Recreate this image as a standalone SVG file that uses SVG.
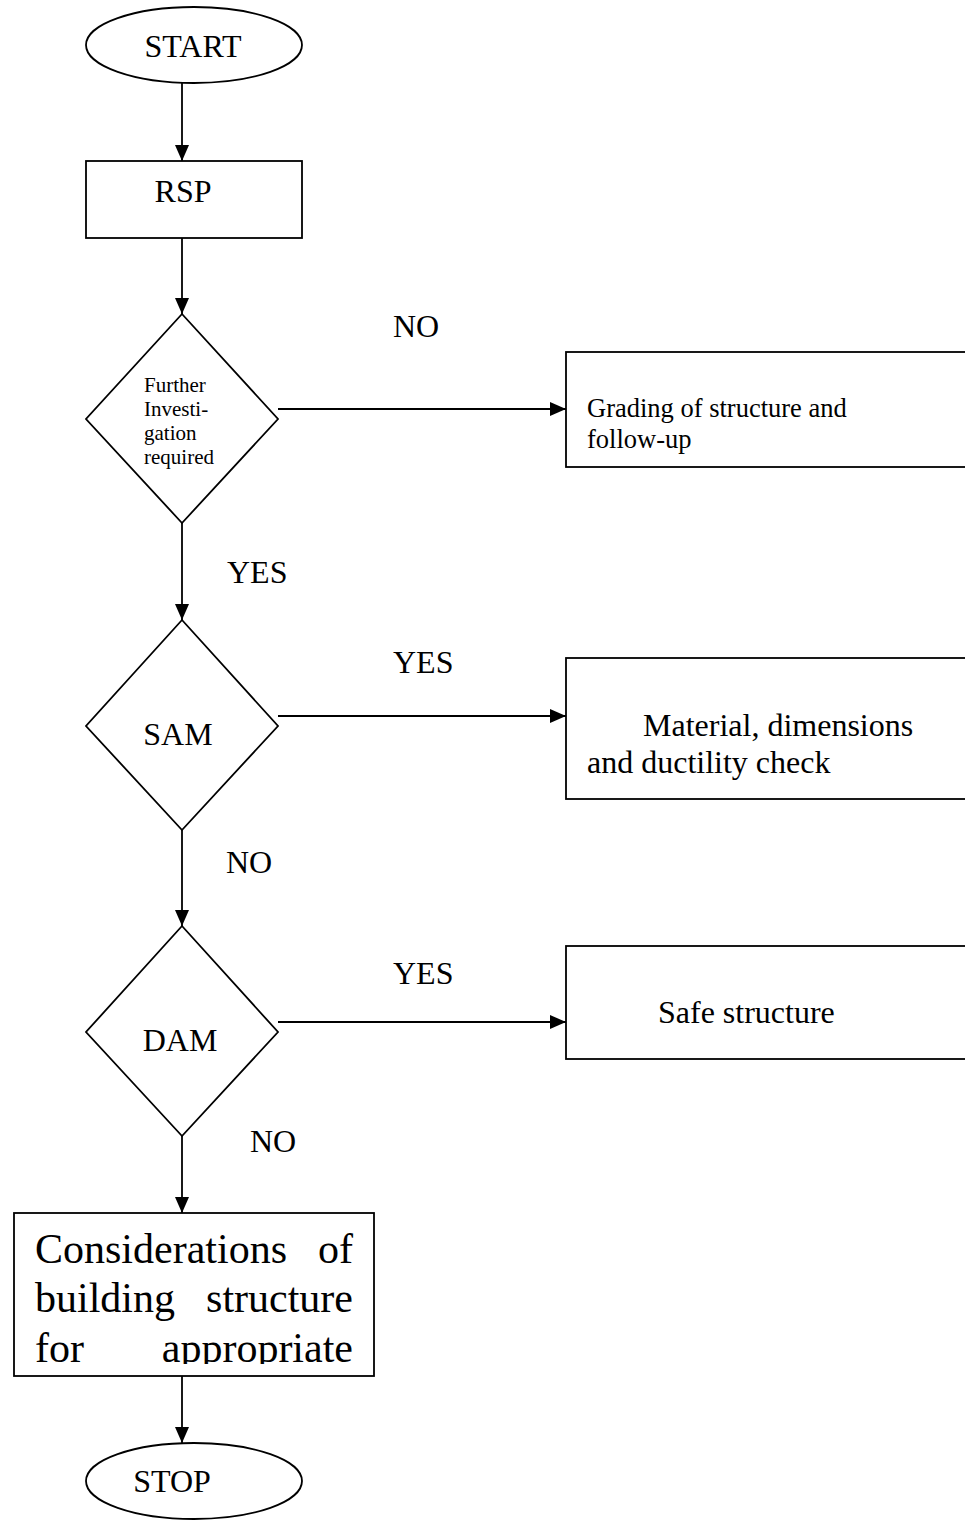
<svg xmlns="http://www.w3.org/2000/svg" width="965" height="1520" viewBox="0 0 965 1520">
<style>
.s{fill:#fff;stroke:#000;stroke-width:1.8}
.c{fill:none;stroke:#000;stroke-width:1.8}
text{font-family:"Liberation Serif","Times New Roman",serif;fill:#000}
.t31{font-size:32px}
.t26{font-size:26.5px}
.t21{font-size:21px}
.t42{font-size:42px}
</style>
<defs>
<marker id="ah" markerUnits="userSpaceOnUse" markerWidth="16" markerHeight="14" refX="16" refY="7" orient="auto">
<path d="M0,0 L16,7 L0,14 z" fill="#000"/>
</marker>
<clipPath id="clipC"><rect x="14" y="1213" width="360" height="151"/></clipPath>
</defs>
<g id="connectors">
<line class="c" x1="182" y1="83" x2="182" y2="161" marker-end="url(#ah)"/>
<line class="c" x1="182" y1="238" x2="182" y2="314" marker-end="url(#ah)"/>
<line class="c" x1="182" y1="523" x2="182" y2="620" marker-end="url(#ah)"/>
<line class="c" x1="182" y1="830" x2="182" y2="926" marker-end="url(#ah)"/>
<line class="c" x1="182" y1="1136" x2="182" y2="1213" marker-end="url(#ah)"/>
<line class="c" x1="182" y1="1376" x2="182" y2="1443" marker-end="url(#ah)"/>
<line class="c" x1="278" y1="409" x2="566" y2="409" marker-end="url(#ah)"/>
<line class="c" x1="278" y1="716" x2="566" y2="716" marker-end="url(#ah)"/>
<line class="c" x1="278" y1="1022" x2="566" y2="1022" marker-end="url(#ah)"/>
<text class="t31" x="393" y="337">NO</text>
<text class="t31" x="227" y="583">YES</text>
<text class="t31" x="393" y="673">YES</text>
<text class="t31" x="226" y="873">NO</text>
<text class="t31" x="393" y="984">YES</text>
<text class="t31" x="250" y="1152">NO</text>
</g>
<g id="start">
<ellipse class="s" cx="194" cy="45" rx="108" ry="38"/>
<text class="t31" x="193" y="57" text-anchor="middle">START</text>
</g>
<g id="rsp">
<rect class="s" x="86" y="161" width="216" height="77"/>
<text class="t31" x="183" y="202" text-anchor="middle">RSP</text>
</g>
<g id="further">
<polygon class="s" points="182,314 278,419 182,523 86,419"/>
<text class="t21" x="144" y="392">Further</text>
<text class="t21" x="144" y="416">Investi-</text>
<text class="t21" x="144" y="440">gation</text>
<text class="t21" x="144" y="464">required</text>
</g>
<g id="grading">
<rect class="s" x="566" y="352" width="420" height="115"/>
<text class="t26" x="587" y="417">Grading of structure and</text>
<text class="t26" x="587" y="448">follow-up</text>
</g>
<g id="sam">
<polygon class="s" points="182,620 278,726 182,830 86,726"/>
<text class="t31" x="178" y="745" text-anchor="middle">SAM</text>
</g>
<g id="material">
<rect class="s" x="566" y="658" width="420" height="141"/>
<text class="t31" x="643" y="736">Material, dimensions</text>
<text class="t31" x="587" y="773">and ductility check</text>
</g>
<g id="dam">
<polygon class="s" points="182,926 278,1032 182,1136 86,1032"/>
<text class="t31" x="180" y="1051" text-anchor="middle">DAM</text>
</g>
<g id="safe">
<rect class="s" x="566" y="946" width="420" height="113"/>
<text class="t31" x="658" y="1023">Safe structure</text>
</g>
<g id="considerations">
<rect class="s" x="14" y="1213" width="360" height="163"/>
<g clip-path="url(#clipC)">
<text class="t42" x="35" y="1263">Considerations</text>
<text class="t42" x="353" y="1263" text-anchor="end">of</text>
<text class="t42" x="35" y="1312">building</text>
<text class="t42" x="353" y="1312" text-anchor="end">structure</text>
<text class="t42" x="35" y="1362">for</text>
<text class="t42" x="353" y="1362" text-anchor="end">appropriate</text>
</g>
</g>
<g id="stop">
<ellipse class="s" cx="194" cy="1481" rx="108" ry="38"/>
<text class="t31" x="172" y="1492" text-anchor="middle">STOP</text>
</g>
</svg>
